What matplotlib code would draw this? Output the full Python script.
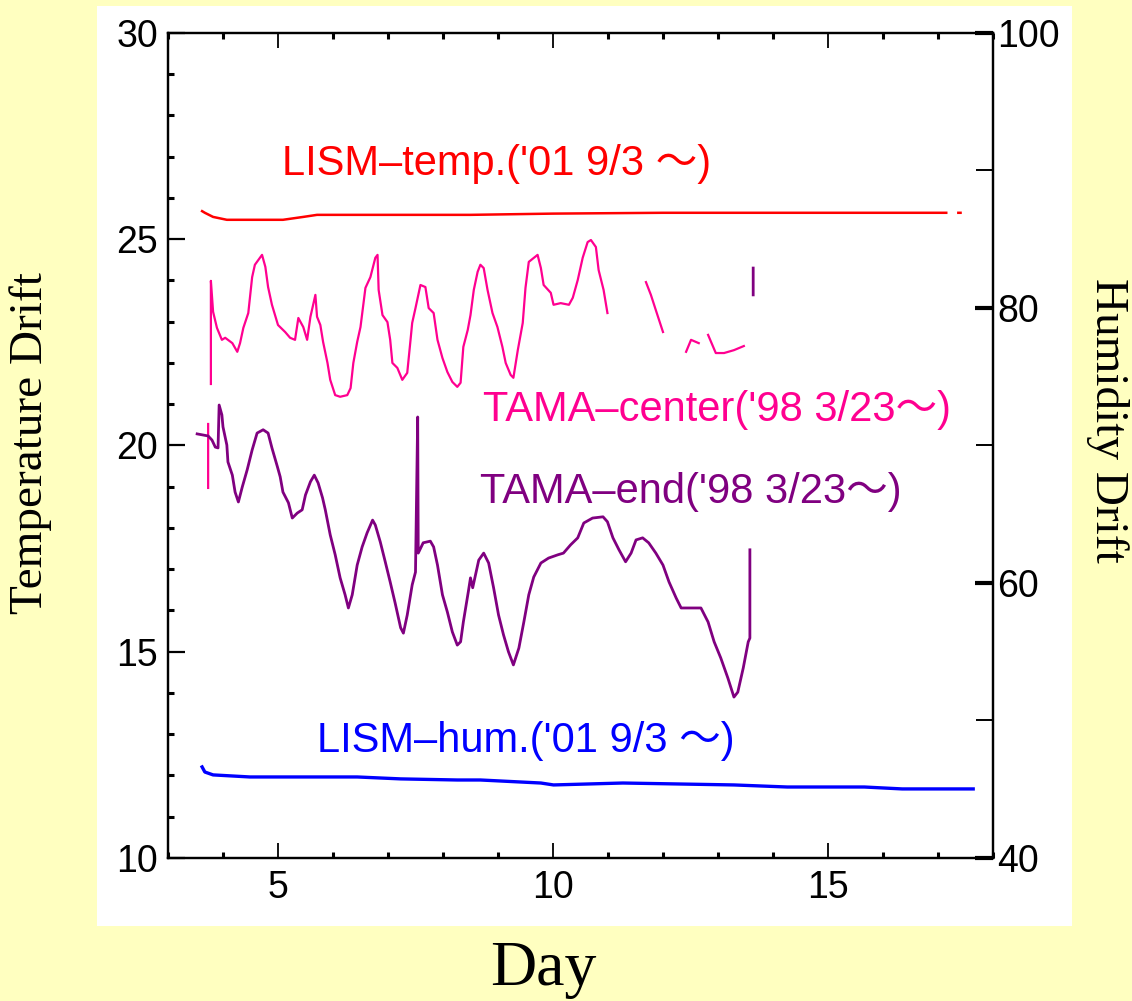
"""Temperature / humidity drift of LISM and TAMA over days."""

import matplotlib
matplotlib.use("Agg")
import matplotlib.pyplot as plt
import numpy as np
from matplotlib.patches import Rectangle
from matplotlib.ticker import MultipleLocator, FixedLocator

nan = np.nan

# LISM temperature (left axis)
lism_temp_day = [3.62, 3.67, 3.82, 4.07, 5.09, 5.46, 5.71, 8.50, 10.00, 12.00, 17.15, nan, 17.37, 17.41]
lism_temp_val = [25.68, 25.64, 25.54, 25.47, 25.47, 25.54, 25.59, 25.59, 25.62, 25.64, 25.64, nan, 25.64, 25.64]

# TAMA center (left axis), NaN = gaps in the record
tama_center_day = [
    3.73, 3.73, nan,
    3.78, 3.78, 3.82, 3.89, 3.98, 4.04, 4.17, 4.26, 4.31, 4.37, 4.46, 4.53, 4.58, 4.71, 4.77, 4.82,
    4.89, 5.00, 5.13, 5.22, 5.31, 5.37, 5.46, 5.53, 5.59, 5.68, 5.71, 5.77, 5.82, 5.90, 5.95, 6.04,
    6.13, 6.26, 6.32, 6.37, 6.44, 6.50, 6.59, 6.68, 6.77, 6.81, 6.83, 6.90, 6.99, 7.04, 7.08, 7.17,
    7.26, 7.35, 7.41, 7.44, 7.50, 7.59, 7.68, 7.74, 7.83, 7.90, 7.99, 8.08, 8.17, 8.26, 8.32, 8.37,
    8.45, 8.50, 8.56, 8.63, 8.68, 8.74, 8.81, 8.90, 8.99, 9.08, 9.14, 9.23, 9.28, 9.36, 9.45, 9.50,
    9.56, 9.72, 9.78, 9.83, 9.96, 10.01, 10.14, 10.29, 10.36, 10.45, 10.54, 10.63, 10.69, 10.78,
    10.83, 10.92, 10.99, nan,
    11.69, 11.78, 11.87, 12.00, nan,
    12.42, 12.51, 12.65, nan,
    12.82, 12.96, 13.11, 13.29, 13.47,
]
tama_center_val = [
    18.97, 20.52, nan,
    21.49, 23.99, 23.24, 22.85, 22.56, 22.61, 22.48, 22.27, 22.48, 22.85, 23.21, 24.08, 24.38, 24.62, 24.33, 23.84,
    23.41, 22.92, 22.75, 22.61, 22.56, 23.09, 22.87, 22.56, 23.12, 23.65, 23.12, 22.92, 22.51, 22.00, 21.59, 21.22,
    21.18, 21.22, 21.39, 22.00, 22.51, 22.87, 23.82, 24.08, 24.55, 24.62, 23.77, 23.16, 22.99, 22.56, 22.00, 21.88,
    21.59, 21.76, 22.56, 22.97, 23.33, 23.89, 23.84, 23.33, 23.21, 22.56, 22.12, 21.78, 21.54, 21.42, 21.52, 22.39,
    22.80, 23.16, 23.77, 24.21, 24.38, 24.30, 23.77, 23.21, 22.87, 22.39, 22.00, 21.71, 21.64, 22.31, 22.97, 23.82,
    24.45, 24.62, 24.30, 23.89, 23.70, 23.41, 23.45, 23.41, 23.58, 24.01, 24.55, 24.93, 24.98, 24.81,
    24.25, 23.77, 23.21, nan,
    23.96, 23.65, 23.28, 22.75, nan,
    22.27, 22.56, 22.48, nan,
    22.68, 22.24, 22.24, 22.31, 22.41,
]

# TAMA end (left axis)
tama_end_day = [
    3.53, 3.73, 3.80, 3.86, 3.91, 3.93, 3.98, 4.00, 4.07, 4.09, 4.17, 4.22, 4.28, 4.35, 4.44, 4.53,
    4.62, 4.73, 4.82, 4.89, 4.99, 5.04, 5.09, 5.19, 5.26, 5.35, 5.44, 5.50, 5.59, 5.66, 5.73, 5.81,
    5.86, 5.95, 6.04, 6.13, 6.22, 6.28, 6.35, 6.44, 6.53, 6.62, 6.72, 6.77, 6.86, 6.95, 7.04, 7.13,
    7.23, 7.28, 7.35, 7.44, 7.50, 7.54, 7.55, 7.64, 7.77, 7.83, 7.90, 7.99, 8.08, 8.17, 8.26, 8.32,
    8.37, 8.46, 8.50, 8.54, 8.65, 8.74, 8.83, 8.92, 9.01, 9.10, 9.19, 9.28, 9.38, 9.47, 9.56, 9.65,
    9.78, 9.92, 10.09, 10.19, 10.32, 10.45, 10.56, 10.72, 10.91, 10.99, 11.09, 11.20, 11.32, 11.42,
    11.51, 11.63, 11.74, 11.87, 12.00, 12.11, 12.24, 12.33, 12.69, 12.82, 12.93, 13.05, 13.18, 13.29,
    13.36, 13.46, 13.55, 13.58, 13.58, nan,
    13.64, 13.64,
]
tama_end_val = [
    20.28, 20.23, 20.13, 19.96, 19.94, 20.98, 20.74, 20.45, 20.01, 19.60, 19.28, 18.87, 18.63, 18.99, 19.41, 19.89,
    20.30, 20.38, 20.30, 19.94, 19.48, 19.24, 18.87, 18.61, 18.24, 18.36, 18.44, 18.80, 19.12, 19.28, 19.09, 18.73,
    18.44, 17.83, 17.35, 16.79, 16.38, 16.06, 16.38, 17.10, 17.54, 17.88, 18.19, 18.07, 17.66, 17.18, 16.69, 16.18,
    15.58, 15.45, 15.89, 16.62, 16.93, 20.69, 17.39, 17.64, 17.68, 17.54, 17.10, 16.38, 15.96, 15.48, 15.16, 15.24,
    15.72, 16.45, 16.79, 16.55, 17.22, 17.39, 17.15, 16.55, 15.89, 15.41, 15.00, 14.68, 15.09, 15.72, 16.38, 16.81,
    17.15, 17.27, 17.35, 17.39, 17.59, 17.76, 18.12, 18.24, 18.27, 18.15, 17.76, 17.47, 17.18, 17.39,
    17.71, 17.76, 17.64, 17.39, 17.10, 16.69, 16.30, 16.06, 16.06, 15.72, 15.24, 14.85, 14.36, 13.90,
    14.02, 14.61, 15.24, 15.33, 17.47, nan,
    24.30, 23.65,
]

# LISM humidity (right axis)
lism_hum_day = [3.62, 3.67, 3.82, 4.49, 6.44, 7.23, 8.26, 8.68, 9.78, 10.01, 11.27, 13.29, 14.26, 15.66, 16.35, 17.64]
lism_hum_val = [46.62, 46.25, 46.04, 45.89, 45.89, 45.75, 45.67, 45.67, 45.45, 45.31, 45.45, 45.31, 45.16, 45.16, 45.02, 45.02]

RED = "#ff0000"
PINK = "#ff0090"
PURPLE = "#800080"
BLUE = "#0000ff"
YELLOW = "#ffffc0"

SANS = ["Liberation Sans", "DejaVu Sans"]
NOTE = ["Liberation Sans", "Noto Sans CJK JP", "DejaVu Sans"]
SERIF = ["Liberation Serif", "DejaVu Serif"]

fig = plt.figure(figsize=(11.32, 10.01), dpi=100, facecolor=YELLOW)
# white panel behind the plot
fig.patches.append(Rectangle((0.0857, 0.0749), 0.8613, 0.919, transform=fig.transFigure,
                             facecolor="white", edgecolor="none", zorder=-10))

ax = fig.add_axes([0.1484, 0.1429, 0.7288, 0.8242])
ax.set_facecolor("white")
ax2 = ax.twinx()

ax.plot(lism_temp_day, lism_temp_val, color=RED, lw=1.8)
ax.plot(tama_center_day, tama_center_val, color=PINK, lw=1.6)
ax.plot(tama_end_day, tama_end_val, color=PURPLE, lw=2.0)
ax2.plot(lism_hum_day, lism_hum_val, color=BLUE, lw=2.4)

ax.set_xlim(3, 18)
ax.set_ylim(10, 30)
ax2.set_ylim(40, 100)

ax.xaxis.set_major_locator(FixedLocator([5, 10, 15]))
ax.xaxis.set_minor_locator(MultipleLocator(1))
ax.yaxis.set_major_locator(MultipleLocator(5))
ax.yaxis.set_minor_locator(MultipleLocator(1))
ax2.yaxis.set_major_locator(MultipleLocator(20))
ax2.yaxis.set_minor_locator(FixedLocator([50, 70, 90]))

ax.tick_params(axis="x", which="major", direction="in", top=True, bottom=True,
               length=11, width=1.3, pad=9, labelsize=27)
ax.tick_params(axis="x", which="minor", direction="in", top=True, bottom=True,
               length=4, width=2.2)
ax.tick_params(axis="y", which="major", direction="in", left=True, right=False,
               length=12, width=1.6, pad=7, labelsize=27)
ax.tick_params(axis="y", which="minor", direction="in", left=True, right=False,
               length=4, width=2.2)
ax2.tick_params(axis="y", which="major", direction="in", left=False, right=True,
                length=13, width=3, pad=3, labelsize=27)
ax2.tick_params(axis="y", which="minor", direction="in", left=False, right=True,
                length=12, width=1.4)

for a in (ax, ax2):
    for lab in a.get_xticklabels() + a.get_yticklabels():
        lab.set_family(SANS)
    for sp in a.spines.values():
        sp.set_linewidth(1.6)

ax.text(5.08, 26.56, "LISM\u2013temp.('01 9/3 \u301c)", color=RED, fontsize=30, family=NOTE)
ax.text(8.72, 20.59, "TAMA\u2013center('98 3/23\u301c)", color=PINK, fontsize=30, family=NOTE)
ax.text(8.68, 18.61, "TAMA\u2013end('98 3/23\u301c)", color=PURPLE, fontsize=30, family=NOTE)
ax.text(5.71, 12.57, "LISM\u2013hum.('01 9/3 \u301c)", color=BLUE, fontsize=30, family=NOTE)

fig.text(0.027, 0.557, "Temperature Drift", rotation=90, ha="center", va="center",
         fontsize=34, family=SERIF)
fig.text(0.978, 0.580, "Humidity Drift", rotation=270, ha="center", va="center",
         fontsize=34, family=SERIF)
fig.text(0.480, 0.016, "Day", ha="center", va="baseline", fontsize=46, family=SERIF)

fig.savefig("out.png", dpi=100, facecolor=fig.get_facecolor())
